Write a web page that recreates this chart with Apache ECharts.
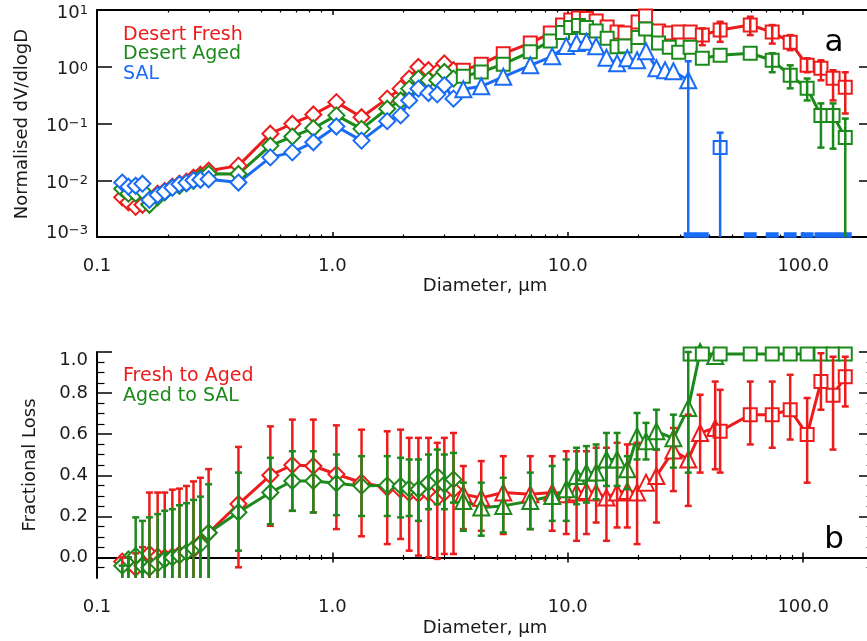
<!DOCTYPE html>
<html><head><meta charset="utf-8">
<script src="https://cdn.jsdelivr.net/npm/echarts@6/dist/echarts.min.js"></script>
<style>html,body{margin:0;padding:0;background:#fff}#c{width:867px;height:641px}</style>
</head><body><div id="c"></div>
<script>
const N = null;
// ---------- size bins (diameter, um) ----------
const diamDiam = [0.128,0.136,0.146,0.156,0.167,0.181,0.194,0.209,0.224,0.240,0.257,0.275,0.298,0.399,0.545,0.676,0.830,1.04,1.33,1.71,1.95,2.12,2.32,2.56,2.79,2.99,3.27];
const triDiam  = [3.60,4.29,5.32,6.93,8.59,9.85,10.9,12.0,13.2,14.6,16.2,17.9,19.7,21.5,23.8,25.9,28.1,32.5,36.5,42.3];
const sqDiam   = [3.60,4.29,5.32,6.93,8.43,9.50,10.3,11.1,12.0,13.2,14.7,16.2,17.5,19.9,21.4,24.3,27.0,29.6,33.1,37.3,44.4,59.6,73.9,88.1,104,119,134,151];

// ---------- tick labels ----------
const xMajorTicks = [0.1,1,10,100];
const xMinorTicks = [0.2,0.3,0.4,0.5,0.6,0.7,0.8,0.9,2,3,4,5,6,7,8,9,20,30,40,50,60,70,80,90];
const yLogTicks   = [0.001,0.01,0.1,1,10];
const yLossTicks  = [0,0.2,0.4,0.6,0.8,1.0];
const yLossMinor  = [-0.05,0.05,0.1,0.15,0.25,0.3,0.35,0.45,0.5,0.55,0.65,0.7,0.75,0.85,0.9,0.95];

// ---------- panel a : normalised dV/dlogD ----------
const freshDiamond = [0.0050,0.0041,0.0034,0.0037,0.0038,0.0058,0.0065,0.0077,0.0087,0.0094,0.0111,0.0125,0.0147,0.0181,0.066,0.099,0.144,0.238,0.129,0.274,0.411,0.618,0.99,0.867,0.80,1.14,0.867];
const agedDiamond  = [0.0071,0.0058,0.0058,0.0065,0.0037,0.0050,0.0061,0.0074,0.0080,0.0088,0.0098,0.0112,0.0130,0.0129,0.0408,0.0589,0.0826,0.139,0.0805,0.182,0.255,0.411,0.618,0.577,0.577,0.809,0.618];
const salDiamond   = [0.0091,0.0077,0.0080,0.0087,0.0045,0.0055,0.0063,0.0074,0.0085,0.0090,0.0100,0.0102,0.0104,0.0091,0.0253,0.0310,0.0467,0.0885,0.050,0.110,0.139,0.255,0.411,0.344,0.326,0.471,0.274];

const freshSquare = [0.867,1.11,1.70,2.61,3.92,5.43,6.65,7.22,7.08,6.39,5.00,4.08,3.92,6.13,7.83,4.25,3.92,4.08,4.08,3.61,4.43,5.43,4.08,2.71,1.06,0.94,0.625,0.434];
const freshSquareLo = [N,N,N,N,N,N,N,N,N,N,N,N,N,N,N,N,N,N,N,2.40,2.75,3.61,2.56,1.96,0.80,0.577,0.255,0.150];
const freshSquareHi = [N,N,N,N,N,N,N,N,N,N,N,N,N,N,N,N,N,N,N,4.74,6.21,7.62,5.43,3.61,1.41,1.30,0.867,0.80];
const agedSquare = [0.679,0.809,1.11,1.83,2.83,4.00,4.90,5.32,4.90,4.25,3.19,2.26,2.31,3.26,4.61,2.61,2.21,1.81,2.21,1.41,1.60,1.73,1.30,0.708,0.416,0.139,0.139,0.0565];
const agedSquareLo = [N,N,N,N,N,N,N,N,N,N,N,N,N,N,N,N,N,N,N,N,N,N,0.80,0.417,0.255,0.0376,0.036,0.0001];
const agedSquareHi = [N,N,N,N,N,N,N,N,N,N,N,N,N,N,N,N,N,N,N,N,N,N,1.73,1.06,0.62,0.226,0.226,0.122];
// 0.001 = at the axis floor (zero concentration)
const salSquare   = [N,N,N,N,N,N,N,N,N,N,N,N,N,N,N,N,N,N,0.001,0.001,0.0376,0.001,0.001,0.001,0.001,0.001,0.001,0.001];
const salSquareLo = [N,N,N,N,N,N,N,N,N,N,N,N,N,N,N,N,N,N,N,N,0.0001,N,N,N,N,N,N,N];
const salSquareHi = [N,N,N,N,N,N,N,N,N,N,N,N,N,N,N,N,N,N,N,N,0.069,N,N,N,N,N,N,N];
const salTriangle   = [0.400,0.452,0.665,1.06,1.53,2.31,2.61,2.77,2.30,1.44,1.15,1.41,1.30,1.88,0.94,0.867,0.832,0.577,N,N];
const salTriangleLo = [N,N,N,N,N,N,N,N,N,N,N,N,N,N,N,N,N,0.0001,N,N];
const salTriangleHi = [N,N,N,N,N,N,N,N,N,N,N,N,N,N,N,N,N,1.25,N,N];

// ---------- panel b : fractional loss ----------
const lossFreshDiamond   = [-0.02,-0.03,-0.05,-0.03,0.017,0.005,0.0,0.005,0.015,0.025,0.04,0.07,0.12,0.26,0.40,0.45,0.445,0.405,0.365,0.34,0.33,0.315,0.31,0.315,0.29,0.315,0.33];
const lossFreshDiamondLo = [-0.3,-0.3,-0.3,-0.3,-0.3,-0.3,-0.3,-0.3,-0.3,-0.3,-0.3,-0.3,-0.3,-0.048,0.154,0.227,0.219,0.138,0.103,0.065,0.090,0.033,0.009,0.001,-0.007,0.017,0.017];
const lossFreshDiamondHi = [0.0,0.0,0.02,0.05,0.316,0.316,0.316,0.33,0.335,0.348,0.37,0.388,0.43,0.538,0.638,0.671,0.671,0.643,0.622,0.614,0.622,0.582,0.582,0.582,0.558,0.582,0.606];
const lossAgedDiamond    = [-0.04,-0.01,0.007,-0.04,-0.05,-0.03,-0.01,0.0,0.01,0.025,0.045,0.065,0.12,0.22,0.316,0.372,0.372,0.361,0.348,0.351,0.348,0.335,0.332,0.364,0.396,0.356,0.380];
const lossAgedDiamondLo  = [-0.3,-0.3,-0.3,-0.3,-0.3,-0.3,-0.3,-0.3,-0.3,-0.3,-0.3,-0.3,-0.3,0.033,0.162,0.227,0.219,0.206,0.202,0.202,0.195,0.202,0.178,0.235,0.259,0.235,0.267];
const lossAgedDiamondHi  = [-0.04,0.0,0.195,0.178,0.195,0.211,0.227,0.235,0.254,0.264,0.28,0.296,0.356,0.413,0.485,0.517,0.517,0.501,0.493,0.493,0.485,0.477,0.477,0.501,0.525,0.501,0.509];

const lossFreshTriangle   = [0.308,0.29,0.316,0.308,0.316,0.308,0.316,0.324,0.316,0.292,0.316,0.324,0.316,0.364,0.396,N,0.52,0.477,0.606,0.630];
const lossFreshTriangleLo = [0.138,0.130,0.114,0.138,0.130,0.114,0.081,0.114,0.170,0.081,0.146,0.146,0.065,N,0.170,N,0.323,0.251,0.413,0.429];
const lossFreshTriangleHi = [0.445,0.469,0.493,0.493,0.493,0.517,0.517,0.517,0.534,0.534,0.558,0.550,0.558,N,0.525,N,0.630,0.695,0.792,0.856];
const lossAgedTriangle    = [0.275,0.243,0.251,0.275,0.299,0.332,0.396,0.413,0.413,0.477,0.477,0.429,0.590,0.566,0.614,N,0.58,0.727,1.0,0.98];
const lossAgedTriangleLo  = [0.130,0.106,0.122,0.138,0.178,0.178,0.259,0.267,0.283,0.348,0.348,0.332,0.477,0.477,0.525,N,0.437,0.413,N,N];
const lossAgedTriangleHi  = [0.364,0.364,0.388,0.413,0.445,0.477,0.534,0.542,0.550,0.606,0.606,0.493,0.703,0.655,0.719,N,0.695,1.0,N,N];

const lossFreshSquare   = [N,N,N,N,N,N,N,N,N,N,N,N,N,N,N,N,N,N,N,N,0.614,0.695,0.695,0.719,0.598,0.856,0.79,0.880];
const lossFreshSquareLo = [N,N,N,N,N,N,N,N,N,N,N,N,N,N,N,N,N,N,N,N,0.413,0.550,0.534,0.574,0.364,0.719,0.525,0.735];
const lossFreshSquareHi = [N,N,N,N,N,N,N,N,N,N,N,N,N,N,N,N,N,N,N,N,0.816,0.856,0.856,0.889,0.776,0.994,0.977,0.977];
const lossAgedSquare    = [N,N,N,N,N,N,N,N,N,N,N,N,N,N,N,N,N,N,0.99,0.99,0.99,0.99,0.99,0.99,0.99,0.99,0.99,0.99];

// ---------- styling ----------
const FONT = "'DejaVu Sans', sans-serif";
const RED = '#ec1c1c', GREEN = '#1b8a1b', BLUE = '#1a6cf5';
const TXT = '#1a1a1a';
const FS = 18;

function xAxes(g) {
  const base = {type:'log', logBase:10, gridIndex:g, min:0.1, max:200,
    splitLine:{show:false}, minorTick:{show:false}, minorSplitLine:{show:false}};
  const lineOn = {show:true, lineStyle:{color:'#000', width:2}};
  const majT = {show:true, inside:true, length:5, lineStyle:{color:'#000', width:1.5}, customValues:xMajorTicks};
  const minT = {show:true, inside:true, length:2.5, lineStyle:{color:'#000', width:1.2}, customValues:xMinorTicks};
  return [
    Object.assign({}, base, {position:'bottom', axisLine:lineOn, axisTick:majT,
      axisLabel:{show:true, customValues:xMajorTicks, formatter:v=>Number(v).toFixed(1), margin:20,
        fontSize:FS, fontFamily:FONT, color:TXT, showMinLabel:true, showMaxLabel:true}}),
    Object.assign({}, base, {position:'bottom', axisLine:{show:false}, axisTick:minT, axisLabel:{show:false}}),
    Object.assign({}, base, {position:'top', axisLine:lineOn, axisTick:majT, axisLabel:{show:false}}),
    Object.assign({}, base, {position:'top', axisLine:{show:false}, axisTick:minT, axisLabel:{show:false}})
  ];
}

function logLabel(v) {
  const e = Math.round(Math.log10(v));
  let t = '{b|10}{s|' + (e < 0 ? '\u2212' : '') + Math.abs(e) + '}';
  if (e === -3) t = t + '\n';
  return t;
}
const lineOnY = {show:true, lineStyle:{color:'#000', width:2}};
const yAxes = [
  {type:'log', logBase:10, gridIndex:0, position:'left', min:0.001, max:10, splitLine:{show:false},
    axisLine:lineOnY, axisTick:{show:true, inside:true, length:15, lineStyle:{color:'#000', width:1.5}, customValues:yLogTicks},
    axisLabel:{show:true, customValues:yLogTicks, formatter:logLabel, margin:9, lineHeight:14, padding:[6,0,0,0],
      fontFamily:FONT, color:TXT, showMinLabel:true, showMaxLabel:true,
      rich:{b:{fontSize:FS, lineHeight:18, fontFamily:FONT, color:TXT},
            s:{fontSize:13, lineHeight:8, verticalAlign:'top', fontFamily:FONT, color:TXT}}}},
  {type:'log', logBase:10, gridIndex:0, position:'right', min:0.001, max:10, splitLine:{show:false},
    axisLine:lineOnY, axisTick:{show:true, inside:true, length:15, lineStyle:{color:'#000', width:1.5}, customValues:yLogTicks},
    axisLabel:{show:false}},
  {type:'value', gridIndex:1, position:'left', min:-0.1, max:1.0, splitLine:{show:false},
    axisLine:lineOnY, axisTick:{show:true, inside:true, length:15, lineStyle:{color:'#000', width:1.5}, customValues:yLossTicks},
    axisLabel:{show:true, customValues:yLossTicks, formatter:v=>(Math.abs(v-1)<1e-9 ? '\n1.0' : Number(v).toFixed(1)),
      margin:9, fontSize:FS, lineHeight:16, fontFamily:FONT, color:TXT, showMinLabel:true, showMaxLabel:true}},
  {type:'value', gridIndex:1, position:'left', min:-0.1, max:1.0, splitLine:{show:false},
    axisLine:{show:false}, axisTick:{show:true, inside:true, length:7.5, lineStyle:{color:'#000', width:1.2}, customValues:yLossMinor},
    axisLabel:{show:false}},
  {type:'value', gridIndex:1, position:'right', min:-0.1, max:1.0, splitLine:{show:false},
    axisLine:lineOnY, axisTick:{show:true, inside:true, length:15, lineStyle:{color:'#000', width:1.5}, customValues:yLossTicks},
    axisLabel:{show:false}},
  {type:'value', gridIndex:1, position:'right', min:-0.1, max:1.0, splitLine:{show:false},
    axisLine:{show:false}, axisTick:{show:true, inside:true, length:7.5, lineStyle:{color:'#000', width:1.2}, customValues:yLossMinor},
    axisLabel:{show:false}}
];

function pairs(xs, ys) {
  const out = [];
  xs.forEach((x, i) => { if (ys[i] != null) out.push([x, ys[i]]); });
  return out;
}
const SYM = {diamond:['emptyDiamond', 16], square:['emptyRect', 13], triangle:['emptyTriangle', 16]};
function lineSeries(xs, ys, color, shape, xi, yi, noLine) {
  return {type:'line', xAxisIndex:xi, yAxisIndex:yi, data:pairs(xs, ys),
    symbol:SYM[shape][0], symbolSize:SYM[shape][1], showAllSymbol:true, clip:true,
    lineStyle:{color:color, width: noLine ? 0 : 3}, itemStyle:{color:color, borderColor:color, borderWidth:2.6},
    animation:false, silent:true, z:2};
}
function renderErr(params, api) {
  const x = api.value(0), lo = api.value(1), hi = api.value(2);
  const a = api.coord([x, hi]), b = api.coord([x, lo]);
  const cs = params.coordSys, top = cs.y, bot = cs.y + cs.height;
  const px = a[0];
  let y1 = a[1], y2 = b[1];
  if (!isFinite(y2)) y2 = bot + 100;
  const c1 = Math.max(top, Math.min(bot, y1)), c2 = Math.max(top, Math.min(bot, y2));
  const st = {stroke:api.visual('color'), lineWidth:2.5};
  const ch = [];
  if (c2 > c1) ch.push({type:'line', shape:{x1:px, y1:c1, x2:px, y2:c2}, style:st});
  const w = 3.5;
  if (y1 >= top - 0.5 && y1 <= bot + 0.5) ch.push({type:'line', shape:{x1:px-w, y1:y1, x2:px+w, y2:y1}, style:st});
  if (y2 >= top - 0.5 && y2 <= bot + 0.5) ch.push({type:'line', shape:{x1:px-w, y1:y2, x2:px+w, y2:y2}, style:st});
  return {type:'group', children:ch};
}
function errSeries(xs, lo, hi, color, xi, yi) {
  const data = [];
  xs.forEach((x, i) => { if (lo[i] != null && hi[i] != null) data.push([x, lo[i], hi[i]]); });
  return {type:'custom', xAxisIndex:xi, yAxisIndex:yi, data:data, renderItem:renderErr,
    itemStyle:{color:color}, encode:{x:0, y:[1,2]}, animation:false, silent:true, z:3};
}

// blue floor squares drawn as flat dashes on the axis
const salSquareSeries = lineSeries(sqDiam, salSquare, BLUE, 'square', 0, 0, true);
salSquareSeries.data = salSquareSeries.data.map(p => p[1] <= 0.001
  ? {value:p, symbol:'rect', symbolSize:[9,4], symbolOffset:[0,-2]} : p);

const series = [
  // panel a
  lineSeries(diamDiam, freshDiamond, RED, 'diamond', 0, 0),
  lineSeries(sqDiam, freshSquare, RED, 'square', 0, 0),
  lineSeries(diamDiam, agedDiamond, GREEN, 'diamond', 0, 0),
  lineSeries(sqDiam, agedSquare, GREEN, 'square', 0, 0),
  lineSeries(diamDiam, salDiamond, BLUE, 'diamond', 0, 0),
  lineSeries(triDiam, salTriangle, BLUE, 'triangle', 0, 0),
  salSquareSeries,
  errSeries(sqDiam, freshSquareLo, freshSquareHi, RED, 0, 0),
  errSeries(sqDiam, agedSquareLo, agedSquareHi, GREEN, 0, 0),
  errSeries(triDiam, salTriangleLo, salTriangleHi, BLUE, 0, 0),
  errSeries(sqDiam, salSquareLo, salSquareHi, BLUE, 0, 0),
  // panel b
  lineSeries(diamDiam, lossFreshDiamond, RED, 'diamond', 4, 2),
  lineSeries(triDiam, lossFreshTriangle, RED, 'triangle', 4, 2),
  lineSeries(sqDiam, lossFreshSquare, RED, 'square', 4, 2),
  errSeries(diamDiam, lossFreshDiamondLo, lossFreshDiamondHi, RED, 4, 2),
  errSeries(triDiam, lossFreshTriangleLo, lossFreshTriangleHi, RED, 4, 2),
  errSeries(sqDiam, lossFreshSquareLo, lossFreshSquareHi, RED, 4, 2),
  lineSeries(diamDiam, lossAgedDiamond, GREEN, 'diamond', 4, 2),
  lineSeries(triDiam, lossAgedTriangle, GREEN, 'triangle', 4, 2),
  lineSeries(sqDiam, lossAgedSquare, GREEN, 'square', 4, 2),
  errSeries(diamDiam, lossAgedDiamondLo, lossAgedDiamondHi, GREEN, 4, 2),
  errSeries(triDiam, lossAgedTriangleLo, lossAgedTriangleHi, GREEN, 4, 2)
];

function txt(x, y, text, color, size, align, rot) {
  return {type:'text', x:x, y:y, rotation:rot || 0, silent:true, z:10,
    style:{text:text, fill:color, font:size + 'px ' + FONT, fontSize:size, fontFamily:FONT,
      align:align || 'left', verticalAlign:'middle', textAlign:align || 'left', textVerticalAlign:'middle'}};
}
const graphics = [
  txt(123, 35, 'Desert Fresh', RED, 19),
  txt(123, 54, 'Desert Aged', GREEN, 19),
  txt(123, 74, 'SAL', BLUE, 19),
  txt(123, 376, 'Fresh to Aged', RED, 19),
  txt(123, 396, 'Aged to SAL', GREEN, 19),
  txt(834, 43, 'a', '#000', 31, 'center'),
  txt(834, 540, 'b', '#000', 31, 'center'),
  txt(485, 286, 'Diameter, \u03bcm', TXT, FS, 'center'),
  txt(485, 628, 'Diameter, \u03bcm', TXT, FS, 'center'),
  txt(22, 124, 'Normalised dV/dlogD', TXT, FS, 'center', Math.PI/2),
  txt(30, 465, 'Fractional Loss', TXT, FS, 'center', Math.PI/2)
];

const chart = echarts.init(document.getElementById('c'), null, {renderer:'canvas'});
chart.setOption({
  animation:false,
  backgroundColor:'#fff',
  grid:[
    {left:97, top:10, width:777, height:227, containLabel:false, outerBoundsMode:'none'},
    {left:97, top:352, width:777, height:226, containLabel:false, outerBoundsMode:'none'}
  ],
  xAxis: xAxes(0).concat(xAxes(1)),
  yAxis: yAxes,
  series: series,
  graphic: graphics
});
</script></body></html>
